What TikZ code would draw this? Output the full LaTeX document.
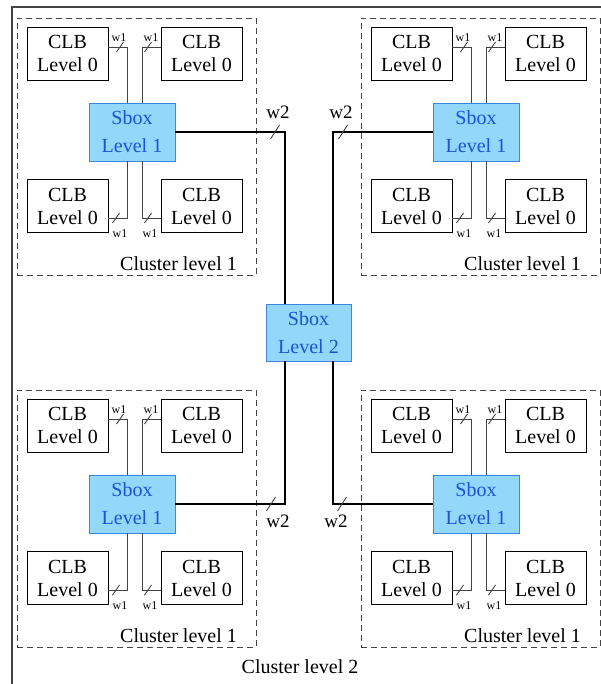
\documentclass[tikz,border=0pt]{standalone}
\usepackage{fontspec}
\setmainfont{Liberation Serif}
\usetikzlibrary{calc}
\definecolor{sbfill}{HTML}{93D8FB}
\definecolor{sbdraw}{HTML}{3C86E0}
\definecolor{sbtext}{HTML}{1E50D8}
\definecolor{dgray}{HTML}{444444}
\tikzset{
 clb/.style={draw=black, line width=0.9pt, minimum width=81pt, minimum height=53pt, inner sep=0pt, align=center, font=\fontsize{20}{23}\selectfont},
 sbox/.style={draw=sbdraw, fill=sbfill, text=sbtext, line width=0.9pt, inner sep=0pt, align=center, font=\fontsize{20}{28}\selectfont},
 clusterbox/.style={draw=dgray, dash pattern=on 6pt off 4pt, line width=0.9pt, inner sep=0pt},
 outerbox/.style={draw=dgray, line width=1.2pt, inner sep=0pt},
 wire/.style={draw=dgray, line width=0.9pt},
 bus/.style={draw=black, line width=1.4pt},
 wlab/.style={font=\fontsize{12}{12}\selectfont, inner sep=0pt},
 wlabb/.style={font=\fontsize{19}{19}\selectfont, inner sep=0pt},
 cltext/.style={font=\fontsize{20}{24}\selectfont, inner sep=0pt},
}
\newcommand\wslash[2]{\draw[wire] ($(#1,#2)+(-3.5,5)$) -- ($(#1,#2)+(3.5,-5)$);}
\newcommand\bslash[2]{\draw[wire] ($(#1,#2)+(-4.5,7)$) -- ($(#1,#2)+(4.5,-7)$);}
\newcommand\mycluster[3]{%
\begin{scope}[shift={(#2,#3)}]
 \node[clusterbox, minimum width=239pt, minimum height=257pt] (#1box) at (136.5,146.5) {};
 \node[cltext, anchor=base east] (#1lab) at (237,270) {Cluster level 1};
 \node[clb] (#1a) at (67.5,53.5) {CLB\\Level 0};
 \node[clb] (#1b) at (201.5,53.5) {CLB\\Level 0};
 \node[clb] (#1c) at (67.5,206) {CLB\\Level 0};
 \node[clb] (#1d) at (201.5,206) {CLB\\Level 0};
 \node[sbox, minimum width=86pt, minimum height=58pt] (#1s) at (132,132) {Sbox\\Level 1};
 \draw[wire] ($(#1a.east)+(0,-6.5)$) -| ($(#1s.north)+(-5,0)$);
 \draw[wire] ($(#1b.west)+(0,-6.5)$) -| ($(#1s.north)+(10,0)$);
 \draw[wire] ($(#1c.east)+(0,12)$) -| ($(#1s.south)+(-5,0)$);
 \draw[wire] ($(#1d.west)+(0,12)$) -| ($(#1s.south)+(10,0)$);
 \wslash{120}{47}
 \wslash{148}{47}
 \wslash{116}{218}
 \wslash{148}{218}
 \node[wlab] (#1wa) at (119,38) {w1};
 \node[wlab] (#1wb) at (151,38) {w1};
 \node[wlab] (#1wc) at (120,234) {w1};
 \node[wlab] (#1wd) at (150,234) {w1};
\end{scope}}
\begin{document}
\begin{tikzpicture}[x=1pt,y=-1pt]
\useasboundingbox (0,0) rectangle (600,684);
\node[outerbox, minimum width=594pt, minimum height=686pt] (outer) at (309,350) {};
\mycluster{tl}{0}{0}
\mycluster{tr}{344}{0}
\mycluster{bl}{0}{372}
\mycluster{br}{344}{372}
\node[sbox, minimum width=85pt, minimum height=57pt] (s2) at (308.5,332.5) {Sbox\\Level 2};
\draw[bus] (tls.east) -| ($(s2.north)+(-23.5,0)$);
\draw[bus] (trs.west) -| ($(s2.north)+(24.5,0)$);
\draw[bus] (bls.east) -| ($(s2.south)+(-23.5,0)$);
\draw[bus] (brs.west) -| ($(s2.south)+(24.5,0)$);
\bslash{275}{132}
\bslash{343}{132}
\bslash{271}{504}
\bslash{342}{504}
\node[wlabb] (w2a) at (278,112) {w2};
\node[wlabb] (w2b) at (341,112) {w2};
\node[wlabb] (w2c) at (278,521) {w2};
\node[wlabb] (w2d) at (336,521) {w2};
\node[cltext] (cl2) at (300,667) {Cluster level 2};
\end{tikzpicture}
\end{document}
